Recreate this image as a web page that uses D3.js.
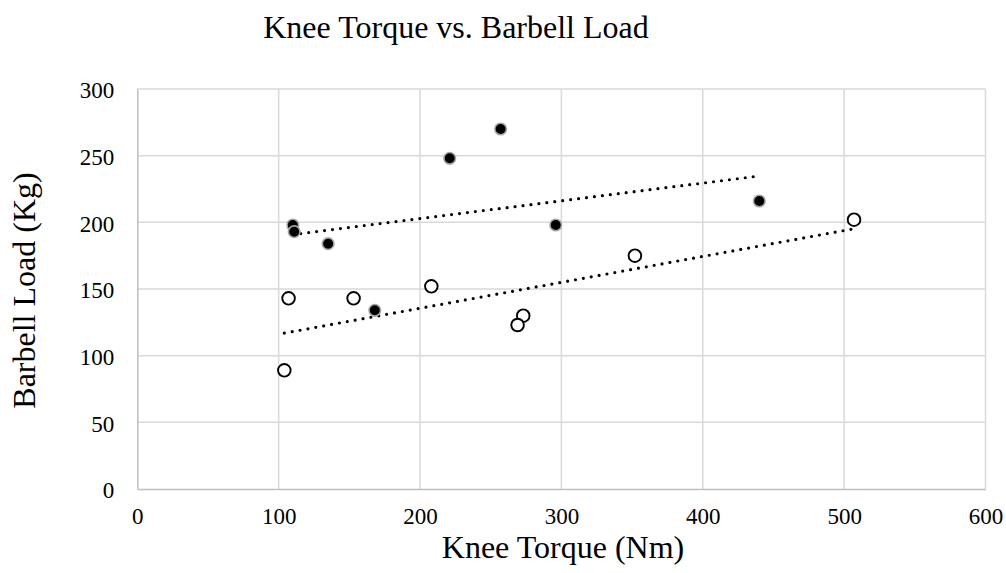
<!DOCTYPE html>
<html>
<head>
<meta charset="utf-8">
<script src="https://cdn.jsdelivr.net/npm/d3@7"></script>
<style>
  html, body { margin: 0; padding: 0; background: #fff; }
  svg { display: block; }
  text { font-family: "Liberation Serif", "Times New Roman", serif; fill: #000; }
</style>
</head>
<body>
<svg id="chart" width="1006" height="573"></svg>
<script>
// Data
const filledTorque = [110, 111, 135, 221, 257, 296, 440, 168];
const filledLoad   = [198, 193, 184, 248, 270, 198, 216, 134];
const openTorque   = [107, 153, 104, 208, 273, 269, 352, 507];
const openLoad     = [143, 143, 89, 152, 130, 123, 175, 202];
const xTicks = [0, 100, 200, 300, 400, 500, 600];
const yTicks = [0, 50, 100, 150, 200, 250, 300];
const titleText = "Knee Torque vs. Barbell Load";
const xTitle = "Knee Torque (Nm)";
const yTitle = "Barbell Load (Kg)";

const svg = d3.select("#chart");
const pL = 137.3, pR = 985.5, pT = 89, pB = 489;

const x = d3.scaleLinear().domain([0, 600]).range([pL, pR]);
const y = d3.scaleLinear().domain([0, 300]).range([pB, pT]);

// gridlines
const g = svg.append("g");
g.selectAll("line.h").data(yTicks.slice(1)).join("line")
  .attr("x1", pL).attr("x2", pR)
  .attr("y1", d => y(d)).attr("y2", d => y(d))
  .attr("stroke", "#d9d9d9").attr("stroke-width", 1.5);
g.selectAll("line.v").data(xTicks.slice(1)).join("line")
  .attr("y1", pT).attr("y2", pB)
  .attr("x1", d => x(d)).attr("x2", d => x(d))
  .attr("stroke", "#d9d9d9").attr("stroke-width", 1.5);

// axes
const xAxis = d3.axisBottom(x).tickValues(xTicks).tickSize(0).tickPadding(19);
const yAxis = d3.axisLeft(y).tickValues(yTicks).tickSize(0).tickPadding(23);
const gx = svg.append("g").attr("transform", `translate(0,${pB})`).call(xAxis);
const gy = svg.append("g").attr("transform", `translate(${pL},0)`).call(yAxis);
[gx, gy].forEach(a => {
  a.select(".domain").attr("stroke", "#bfbfbf").attr("stroke-width", 1.5);
  a.selectAll("text").attr("font-family", "Liberation Serif").attr("font-size", 23).attr("fill", "#000");
});
gy.selectAll("text").attr("dy", "0.38em");

// trendlines (least-squares, as in the original's linear trendline)
function fit(xs, ys) {
  const n = xs.length, mx = d3.mean(xs), my = d3.mean(ys);
  let sxy = 0, sxx = 0;
  for (let i = 0; i < n; i++) { sxy += (xs[i]-mx)*(ys[i]-my); sxx += (xs[i]-mx)**2; }
  const b = sxy / sxx, a = my - b*mx;
  const x0 = d3.min(xs), x1 = d3.max(xs);
  return [[x0, a + b*x0], [x1, a + b*x1]];
}
const line = d3.line().x(d => x(d[0])).y(d => y(d[1]));
[fit(filledTorque, filledLoad), fit(openTorque, openLoad)].forEach(seg => {
  svg.append("path").attr("d", line(seg))
    .attr("fill", "none").attr("stroke", "#000").attr("stroke-width", 3.2)
    .attr("stroke-linecap", "round").attr("stroke-dasharray", "0,8");
});

// open markers
svg.append("g").selectAll("circle").data(openTorque.map((t, i) => [t, openLoad[i]])).join("circle")
  .attr("cx", d => x(d[0])).attr("cy", d => y(d[1])).attr("r", 6.3)
  .attr("fill", "#fff").attr("stroke", "#000").attr("stroke-width", 1.9);

// filled markers
svg.append("g").selectAll("circle").data(filledTorque.map((t, i) => [t, filledLoad[i]])).join("circle")
  .attr("cx", d => x(d[0])).attr("cy", d => y(d[1])).attr("r", 5.8)
  .attr("fill", "#000").attr("stroke", "#a6a6a6").attr("stroke-width", 1.6);

// titles
svg.append("text").attr("x", 456).attr("y", 38).attr("text-anchor", "middle")
  .attr("font-size", 32).text(titleText);
svg.append("text").attr("x", 563).attr("y", 558).attr("text-anchor", "middle")
  .attr("font-size", 32).text(xTitle);
svg.append("text").attr("transform", "translate(35,290.5) rotate(-90)").attr("text-anchor", "middle")
  .attr("font-size", 32).text(yTitle);
</script>
</body>
</html>
